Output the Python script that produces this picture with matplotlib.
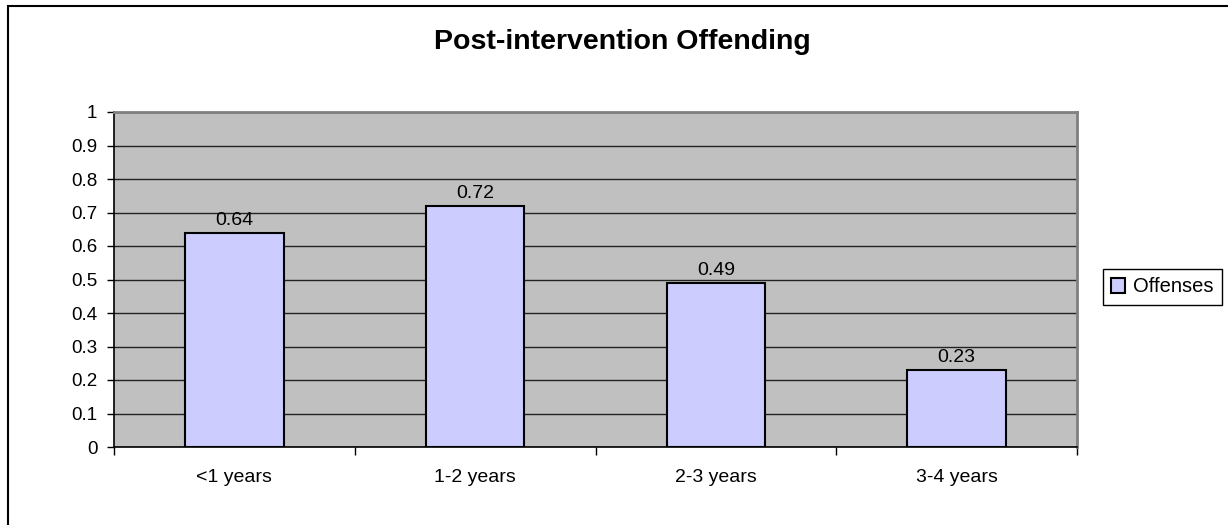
import matplotlib.pyplot as plt
from matplotlib.patches import Rectangle

categories = ["<1 years", "1-2 years", "2-3 years", "3-4 years"]
offenses = [0.64, 0.72, 0.49, 0.23]
y_ticks = [0, 0.1, 0.2, 0.3, 0.4, 0.5, 0.6, 0.7, 0.8, 0.9, 1]
y_tick_labels = ["0", "0.1", "0.2", "0.3", "0.4", "0.5", "0.6", "0.7", "0.8", "0.9", "1"]

plt.rcParams['font.family'] = ['Liberation Sans', 'DejaVu Sans']

W, H = 1228, 525
fig = plt.figure(figsize=(W / 100, H / 100), dpi=100)

# outer chart border (only left and top are visible in the reference)
fig.patches.append(Rectangle((8 / W, -0.05), 1.2, 1 - 6 / H + 0.05, transform=fig.transFigure,
                             fill=False, edgecolor='black', linewidth=1.5))

ax = fig.add_axes([114 / W, 1 - 447 / H, (1077 - 114) / W, (447 - 112) / H])
ax.set_facecolor('#C0C0C0')

x = list(range(len(categories)))
bars = ax.bar(x, offenses, width=0.41, color='#CCCCFF', edgecolor='black', linewidth=1.5,
              label="Offenses", zorder=3)
for b, v in zip(bars, offenses):
    ax.annotate(f"{v:g}", (b.get_x() + b.get_width() / 2, v), xytext=(0, 2.5),
                textcoords='offset points', ha='center', va='bottom', fontsize=14)

ax.set_xlim(-0.5, len(categories) - 0.5)
ax.set_ylim(0, 1)
ax.set_yticks(y_ticks)
ax.set_yticklabels(y_tick_labels, fontsize=13.5)
ax.tick_params(axis='y', length=5, width=1, pad=7, direction='out')
ax.yaxis.grid(True, color='#222222', linewidth=1, zorder=1)
ax.set_axisbelow(True)

ax.set_xticks(x)
ax.set_xticklabels(categories, fontsize=14)
ax.set_xticks([i - 0.5 for i in range(len(categories) + 1)], minor=True)
ax.tick_params(axis='x', which='major', length=0, pad=16)
ax.tick_params(axis='x', which='minor', length=6, width=1, direction='out')

for s in ['left', 'bottom']:
    ax.spines[s].set_color('black')
    ax.spines[s].set_linewidth(1.2)
for s in ['top', 'right']:
    ax.spines[s].set_color('#808080')
    ax.spines[s].set_linewidth(2)

fig.text(622 / W, 1 - 42 / H, "Post-intervention Offending", ha='center', va='center',
         fontsize=20.5, fontweight='bold')

leg = fig.legend(loc='center left', bbox_to_anchor=(1103 / W, 1 - 287 / H), fontsize=14.5,
                 frameon=True, fancybox=False, edgecolor='black', framealpha=1,
                 handlelength=0.7, handleheight=0.7, handletextpad=0.4, borderpad=0.4,
                 borderaxespad=0)
leg.get_frame().set_linewidth(1)

fig.savefig("out.png", dpi=100)
